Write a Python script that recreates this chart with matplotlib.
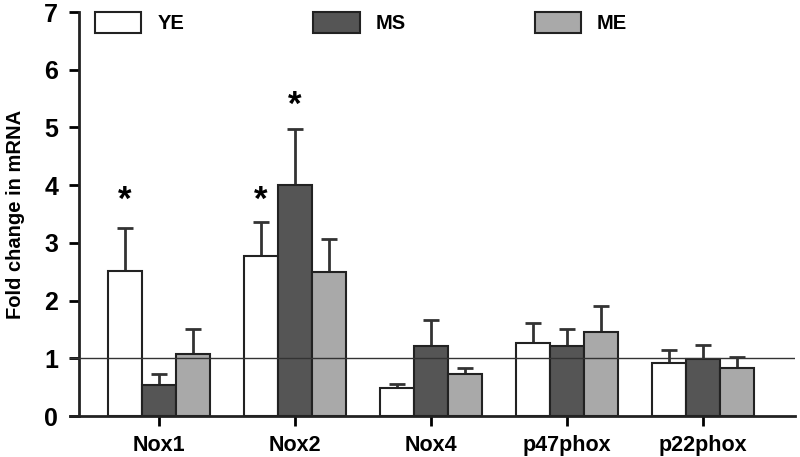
import matplotlib
matplotlib.use('Agg')
import matplotlib.pyplot as plt
import numpy as np

plt.rcParams['font.family'] = ['Liberation Sans', 'DejaVu Sans']
plt.rcParams['font.weight'] = 'bold'

# data
genes = ['Nox1', 'Nox2', 'Nox4', 'p47phox', 'p22phox']
groups = ['YE', 'MS', 'ME']
ye = [2.52, 2.77, 0.49, 1.27, 0.91]
ms = [0.53, 4.01, 1.21, 1.22, 0.99]
me = [1.07, 2.50, 0.73, 1.46, 0.84]
ye_err = [0.74, 0.60, 0.07, 0.35, 0.23]
ms_err = [0.19, 0.96, 0.45, 0.29, 0.24]
me_err = [0.43, 0.56, 0.11, 0.44, 0.18]
colors = ['white', '#555555', '#a9a9a9']

# significance stars: (gene index, group index, y)
stars = [(0, 0, 3.74), (1, 0, 3.74), (1, 1, 5.39)]

fig = plt.figure(figsize=(8, 4.57), dpi=100)
ax = fig.add_axes([70 / 800, 41 / 457, 725 / 800, 404 / 457])

x = np.arange(len(genes))
w = 0.25
values = [ye, ms, me]
errs = [ye_err, ms_err, me_err]
for i, (vals, err, col, lab) in enumerate(zip(values, errs, colors, groups)):
    pos = x + (i - 1) * w
    ax.bar(pos, vals, w, color=col, edgecolor='#222222', linewidth=1.5,
           label=lab, zorder=2)
    ax.errorbar(pos, vals, yerr=[np.zeros(len(vals)), err], fmt='none',
                ecolor='#333333', elinewidth=2, capsize=5.5, capthick=2,
                zorder=1)

for gi, si, yv in stars:
    ax.text(x[gi] + (si - 1) * w, yv, '*', ha='center', va='center',
            fontsize=25, fontweight='bold')

# reference line at 1
ax.axhline(1, color='#333333', linewidth=1, zorder=3)

ax.set_ylim(0, 7)
ax.set_xlim(-0.654, 4.676)
ax.spines['left'].set_position(('data', -0.588))
ax.spines['top'].set_visible(False)
ax.spines['right'].set_visible(False)
for s in ['left', 'bottom']:
    ax.spines[s].set_linewidth(2)
    ax.spines[s].set_color('#222222')

ax.set_yticks(range(0, 8))
ax.set_xticks(x)
ax.set_xticklabels(genes, fontsize=15.5, fontweight='bold')
ax.tick_params(axis='y', labelsize=18, width=2, length=7, pad=8)
ax.tick_params(axis='x', width=2, length=7, pad=7)
for t in ax.get_yticklabels():
    t.set_fontweight('bold')

ax.set_ylabel('Fold change in mRNA', fontsize=14.5, fontweight='bold')
ax.yaxis.set_label_coords(-0.062, 0.5)

ax.legend(loc='upper left', bbox_to_anchor=(95 / 800, 1 - 12 / 457),
          bbox_transform=fig.transFigure, ncol=3, frameon=False,
          fontsize=14.5, handlelength=2.3, handleheight=1.25,
          handletextpad=0.8, columnspacing=6.4, borderpad=0, borderaxespad=0)

fig.savefig('out.png', dpi=100)
